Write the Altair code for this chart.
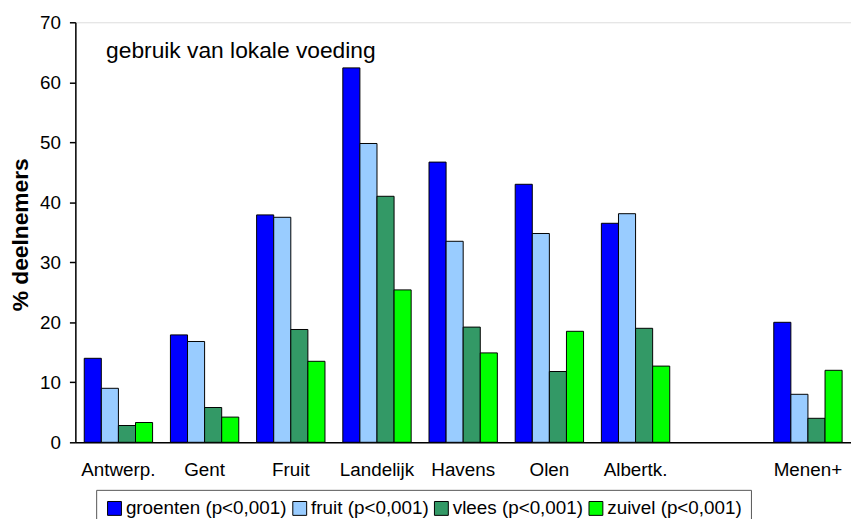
import altair as alt
import pandas as pd

categories = ["Antwerp.", "Gent", "Fruit", "Landelijk", "Havens", "Olen", "Albertk.", " ", "Menen+"]
series = ["groenten (p<0,001)", "fruit (p<0,001)", "vlees (p<0,001)", "zuivel (p<0,001)"]
colors = ["#0000FF", "#99CCFF", "#339966", "#00FF00"]

groenten = [14.0, 17.9, 37.9, 62.4, 46.7, 43.0, 36.5, None, 20.0]
fruit = [9.0, 16.8, 37.5, 49.8, 33.5, 34.8, 38.1, None, 8.0]
vlees = [2.8, 5.8, 18.8, 41.0, 19.2, 11.8, 19.0, None, 4.0]
zuivel = [3.3, 4.2, 13.5, 25.4, 14.9, 18.5, 12.7, None, 12.0]

rows = []
for s, vals in zip(series, [groenten, fruit, vlees, zuivel]):
    for c, v in zip(categories, vals):
        if v is not None:
            rows.append({"cat": c, "serie": s, "val": v})
df = pd.DataFrame(rows)

FONT = "Liberation Sans"

bars = alt.Chart(df).mark_bar(stroke="black", strokeWidth=1).encode(
    x=alt.X("cat:N", sort=categories,
            scale=alt.Scale(domain=categories, paddingInner=0.207, paddingOuter=0.103),
            axis=alt.Axis(title=None, labelAngle=0, labelFontSize=19, labelFont=FONT,
                          labelColor="black", ticks=False, tickSize=0, labelPadding=28,
                          labelBaseline="middle", domainColor="black", domainWidth=1.5,
                          grid=False)),
    xOffset=alt.XOffset("serie:N", sort=series, scale=alt.Scale(domain=series, paddingInner=0, paddingOuter=0)),
    y=alt.Y("val:Q", scale=alt.Scale(domain=[0, 70], nice=False),
            axis=alt.Axis(title="% deelnemers", values=list(range(0, 71, 10)),
                          labelFontSize=19, labelFont=FONT, labelColor="black",
                          labelPadding=9, tickSize=6, tickColor="black", tickWidth=1.5,
                          domainColor="black", domainWidth=1.5, grid=False,
                          titleFontSize=23, titleFont=FONT, titleFontWeight="bold",
                          titleColor="black", titleX=-55, titleY=214,
                          titleBaseline="middle", titleAngle=-90)),
    color=alt.Color("serie:N", sort=series,
                    scale=alt.Scale(domain=series, range=colors),
                    legend=alt.Legend(title=None, orient="none", legendX=21, legendY=472,
                                      direction="horizontal", labelFontSize=19, labelFont=FONT,
                                      labelColor="black", labelLimit=300,
                                      symbolType="square", symbolSize=196,
                                      symbolStrokeColor="black", symbolStrokeWidth=1,
                                      symbolOpacity=1, labelOffset=2, columnPadding=3,
                                      padding=9, strokeColor="#555555", fillColor="white")),
)

note = alt.Chart(pd.DataFrame({"t": ["gebruik van lokale voeding"]})).mark_text(
    align="left", baseline="alphabetic", fontSize=23, font=FONT, color="black"
).encode(text="t:N", x=alt.value(31), y=alt.value(36))

chart = alt.layer(bars, note).properties(
    width=783, height=424,
    autosize=alt.AutoSizeParams(type="none"),
    padding={"left": 68, "top": 12, "right": 0, "bottom": 75},
).configure_view(stroke="#404040", strokeWidth=1.5).configure(background="white")

chart.save("out.html", embed_options={"renderer": "svg", "actions": False})
